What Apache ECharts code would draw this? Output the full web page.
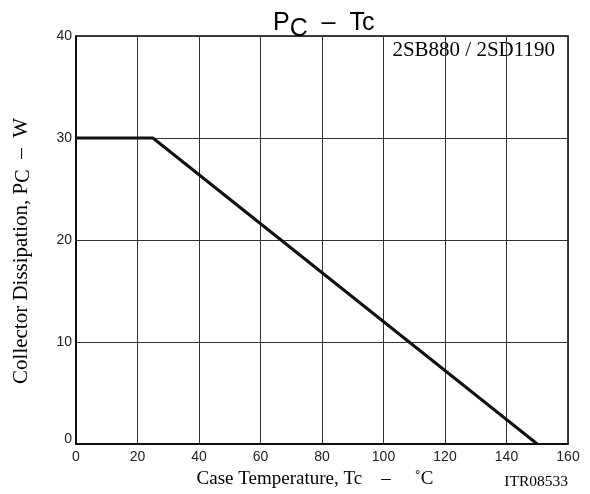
<!DOCTYPE html>
<html><head><meta charset="utf-8">
<script src="https://cdn.jsdelivr.net/npm/echarts@6/dist/echarts.min.js"></script>
<style>html,body{margin:0;padding:0;background:#fff}#c{width:590px;height:494px}</style>
</head><body><div id="c"></div>
<script>
const tempC = [0, 25, 150];
const powerW = [30, 30, 0];
const xTicks = [0, 20, 40, 60, 80, 100, 120, 140, 160];
const yTicks = [0, 10, 20, 30, 40];

const chart = echarts.init(document.getElementById('c'));
const sans = 'Liberation Sans, Arial, sans-serif';
const serif = 'Liberation Serif, Times New Roman, serif';
chart.setOption({
  animation: false,
  backgroundColor: '#fff',
  title: {
    text: '{p|P}{s|C}{p|  –  Tc}',
    left: 268, top: 0,
    textStyle: {
      fontWeight: 'normal',
      rich: {
        p: {fontFamily: sans, fontSize: 25, color: '#000', fontWeight: 'normal'},
        s: {fontFamily: sans, fontSize: 25, color: '#000', fontWeight: 'normal', padding: [12, 0, 0, 0]}
      }
    }
  },
  grid: {left: 76, right: 22, top: 36, bottom: 50, show: true, borderColor: '#000', borderWidth: 1.5},
  xAxis: {
    type: 'value', min: xTicks[0], max: xTicks[xTicks.length - 1], interval: 20,
    name: 'Case Temperature, Tc    –     ˚C', nameLocation: 'middle', nameGap: 26,
    nameTextStyle: {fontFamily: serif, fontSize: 19, color: '#000', padding: [0, 14, 0, 0]},
    axisLine: {lineStyle: {color: '#000', width: 1.5}},
    axisTick: {show: false},
    axisLabel: {fontFamily: sans, fontSize: 14, color: '#222', margin: 6},
    splitLine: {show: true, lineStyle: {color: '#333', width: 1}}
  },
  yAxis: {
    type: 'value', min: yTicks[0], max: yTicks[yTicks.length - 1], interval: 10,
    name: '{n|Collector Dissipation, P}{s|C}{n|  –  W}', nameLocation: 'middle', nameGap: 42, nameRotate: 90,
    nameTextStyle: {
      padding: [0, 22, 0, 0],
      rich: {
        n: {fontFamily: serif, fontSize: 21, color: '#000'},
        s: {fontFamily: serif, fontSize: 20, color: '#000', padding: [5, 0, 0, 0]}
      }
    },
    axisLine: {lineStyle: {color: '#000', width: 1.5}},
    axisTick: {show: false},
    axisLabel: {
      fontFamily: sans, fontSize: 14, color: '#222', margin: 4,
      formatter: v => v === 0 ? '{z|0}' : String(v),
      rich: {z: {fontFamily: sans, fontSize: 14, color: '#222', padding: [0, 0, 10, 0]}}
    },
    splitLine: {show: true, lineStyle: {color: '#333', width: 1}}
  },
  series: [{
    type: 'line',
    data: tempC.map((t, i) => [t, powerW[i]]),
    symbol: 'none',
    lineStyle: {color: '#111', width: 3}
  }],
  graphic: [
    {type: 'text', right: 35, top: 40, style: {text: '2SB880 / 2SD1190', font: '21px ' + serif, fill: '#000'}},
    {type: 'text', right: 22, top: 474, style: {text: 'ITR08533', font: '15.5px ' + serif, fill: '#000'}}
  ]
});
</script></body></html>
